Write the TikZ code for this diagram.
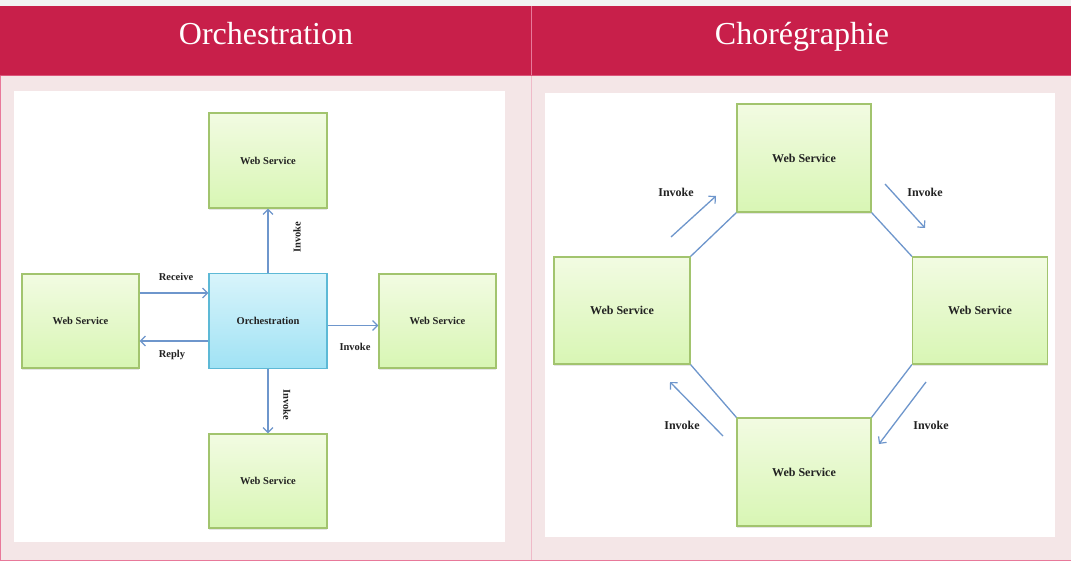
\documentclass[tikz,border=0pt]{standalone}
\usepackage{fontspec}
\setmainfont{Liberation Serif}
\usetikzlibrary{arrows.meta,shadows,calc}
\definecolor{hdr}{HTML}{C81F4A}
\definecolor{cellbg}{HTML}{F4E6E7}
\definecolor{brd}{HTML}{E8799A}
\definecolor{wsborder}{HTML}{A2C46E}
\definecolor{wstop}{HTML}{F2FBE2}
\definecolor{wsbot}{HTML}{D8F6B4}
\definecolor{orborder}{HTML}{5DB9D6}
\definecolor{ortop}{HTML}{D8F4FB}
\definecolor{orbot}{HTML}{A0E2F4}
\definecolor{arrc}{HTML}{6E96CC}
\definecolor{txt}{HTML}{222222}
\tikzset{
  x=1pt,y=-1pt,
  wsbox/.style={draw=wsborder,line width=1.2pt,top color=wstop,bottom color=wsbot,
    drop shadow={shadow xshift=0pt,shadow yshift=-2pt,opacity=0.2},
    text=txt,font=\bfseries\fontsize{10.5}{12}\selectfont,inner sep=0pt},
  wsbig/.style={wsbox,font=\bfseries\fontsize{12}{14}\selectfont},
  orbox/.style={draw=orborder,line width=1.2pt,top color=ortop,bottom color=orbot,
    text=txt,font=\bfseries\fontsize{10.5}{12}\selectfont,inner sep=0pt},
  arr/.style={draw=arrc,line width=1.3pt,-{Straight Barb[length=5pt,width=10pt,line width=1.2pt]}},
  link/.style={draw=arrc,line width=1.3pt},
  lbl/.style={text=txt,font=\bfseries\fontsize{10.5}{12}\selectfont,inner sep=0pt},
  lblbig/.style={text=txt,font=\bfseries\fontsize{12}{14}\selectfont,inner sep=0pt},
  title/.style={text=white,font=\fontsize{32}{36}\selectfont,inner sep=0pt,anchor=base}
}
\begin{document}
\begin{tikzpicture}
% background and bounding box
\fill[white!95!black] (0,0) rectangle (1071,561);
\useasboundingbox (0,0) rectangle (1071,561);
\fill[hdr] (0,6) rectangle (1071,75);
\fill[cellbg] (0,75) rectangle (1071,561);
\draw[brd,line width=0.8pt] (531,6) -- (531,75);
\draw[brd!40!cellbg,line width=0.8pt] (531,75) -- (531,560);
\draw[brd,line width=1pt] (0.5,75) -- (0.5,560) -- (1071,560);
\draw[brd!60!hdr,line width=0.6pt] (0,75) -- (1071,75);
\node[title] (t1) at (266,45) {Orchestration};
\node[title] (t2) at (802,45) {Chorégraphie};
% white panels
\fill[white] (14,91) rectangle (505,542);
\fill[white] (545,93) rectangle (1055,537);

% ---------- Orchestration ----------
\node[wsbox,minimum width=118pt,minimum height=95pt] (lt) at (268,160.5) {Web Service};
\node[wsbox,minimum width=117pt,minimum height=94pt] (ll) at (80.5,321) {Web Service};
\node[orbox,minimum width=118pt,minimum height=95pt] (orch) at (268,321) {Orchestration};
\node[wsbox,minimum width=117pt,minimum height=94pt] (lr) at (437.5,321) {Web Service};
\node[wsbox,minimum width=118pt,minimum height=94pt] (lb) at (268,481) {Web Service};

\draw[arr] (orch.north) -- (lt.south);
\draw[arr] ([yshift=28pt]ll.east) -- ([yshift=28pt]orch.west);
\draw[arr] ([yshift=-20pt]orch.west) -- ([yshift=-20pt]ll.east);
\draw[arr] ([yshift=-4.5pt]orch.east) -- ([yshift=-4.5pt]lr.west);
\draw[arr] (orch.south) -- (lb.north);

\node[lbl] (lrec) at (176,277) {Receive};
\node[lbl] (lrep) at (172,355) {Reply};
\node[lbl] (linv) at (355,347) {Invoke};
\node[lbl,rotate=90] (linvt) at (297,237) {Invoke};
\node[lbl,rotate=-90] (linvb) at (287,405) {Invoke};

% ---------- Choregraphie ----------
\node[wsbig,minimum width=134pt,minimum height=108pt] (rt) at (804,158) {Web Service};
\node[wsbig,minimum width=136pt,minimum height=107pt] (rl) at (622,310.5) {Web Service};
\node[wsbig,minimum width=135pt,minimum height=107pt] (rr) at (980,310.5) {Web Service};
\node[wsbig,minimum width=134pt,minimum height=108pt] (rb) at (804,472) {Web Service};

\draw[link] (rl.north east) -- (rt.south west);
\draw[link] (rt.south east) -- (rr.north west);
\draw[link] (rr.south west) -- (rb.north east);
\draw[link] (rb.north west) -- (rl.south east);

\coordinate (a1s) at (671,237); \coordinate (a1e) at (716,196);
\coordinate (a2s) at (885,184); \coordinate (a2e) at (925,228);
\coordinate (a3s) at (926,382); \coordinate (a3e) at (879,444);
\coordinate (a4s) at (723,436); \coordinate (a4e) at (670,382);
\draw[arr] (a1s) -- (a1e);
\draw[arr] (a2s) -- (a2e);
\draw[arr] (a3s) -- (a3e);
\draw[arr] (a4s) -- (a4e);

\node[lblbig] (rinv1) at (676,192) {Invoke};
\node[lblbig] (rinv2) at (925,192) {Invoke};
\node[lblbig] (rinv3) at (931,425) {Invoke};
\node[lblbig] (rinv4) at (682,425) {Invoke};
\end{tikzpicture}
\end{document}
